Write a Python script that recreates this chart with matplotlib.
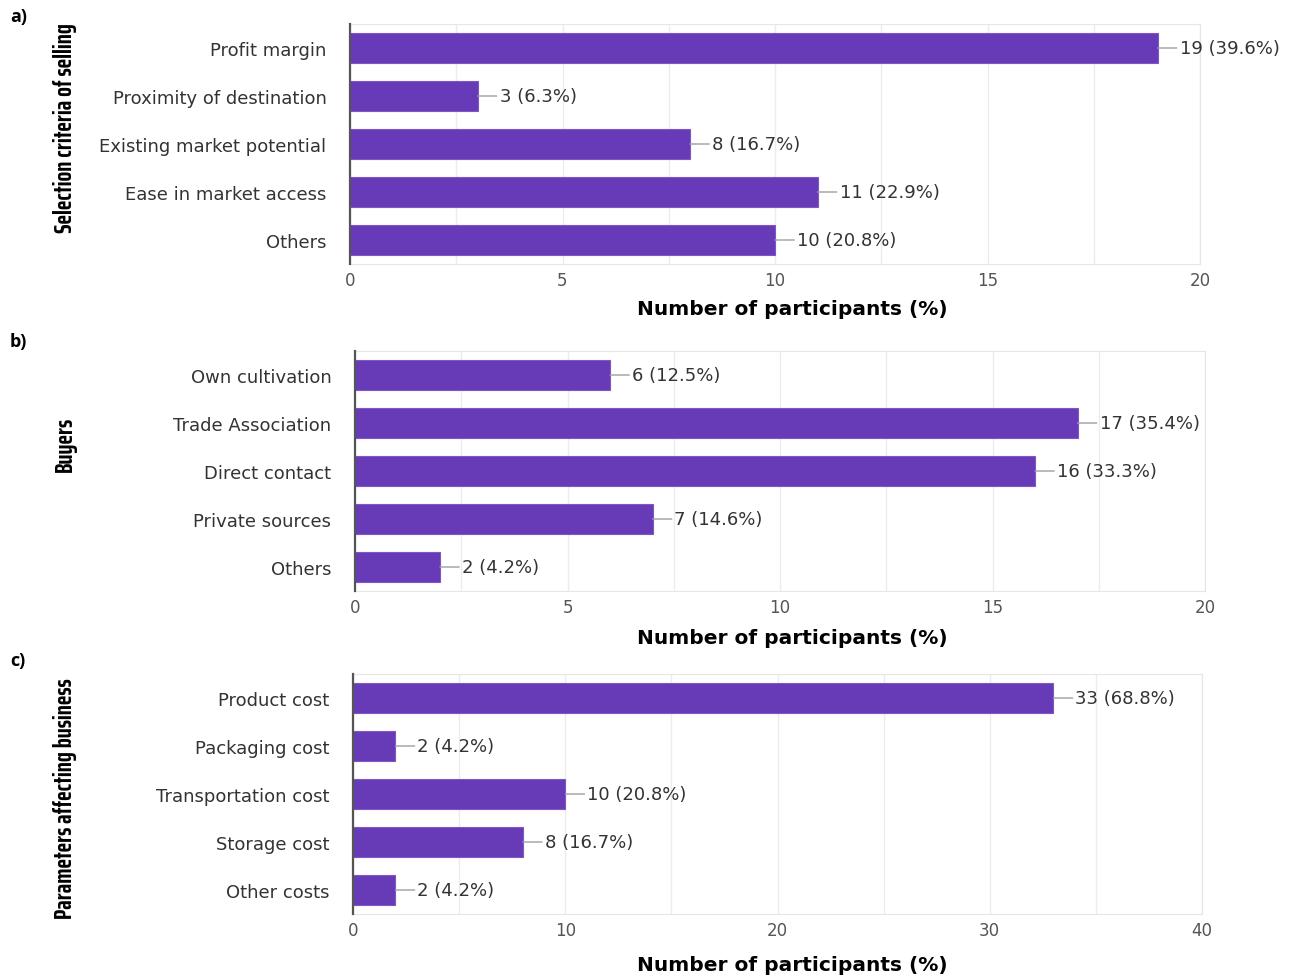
import matplotlib.pyplot as plt
from matplotlib.ticker import MultipleLocator

# panel data
cats_a = ["Profit margin", "Proximity of destination", "Existing market potential",
          "Ease in market access", "Others"]
vals_a = [19, 3, 8, 11, 10]
pct_a = [39.6, 6.3, 16.7, 22.9, 20.8]

cats_b = ["Own cultivation", "Trade Association", "Direct contact",
          "Private sources", "Others"]
vals_b = [6, 17, 16, 7, 2]
pct_b = [12.5, 35.4, 33.3, 14.6, 4.2]

cats_c = ["Product cost", "Packaging cost", "Transportation cost",
          "Storage cost", "Other costs"]
vals_c = [33, 2, 10, 8, 2]
pct_c = [68.8, 4.2, 20.8, 16.7, 4.2]

W, H = 1297, 979
BAR = "#673ab7"
TXT = "#333333"
LBL_FONT = ["DejaVu Sans"]
BOLD_FONT = ["DejaVu Sans"]
TAG_FONT = ["Open Sans", "DejaVu Sans"]
NARROW_FONT = ["Saira ExtraCondensed", "Roboto Condensed", "DejaVu Sans"]

fig = plt.figure(figsize=(W / 100, H / 100), dpi=100)


def px_axes(left, top, right, bottom):
    return fig.add_axes([left / W, 1 - bottom / H, (right - left) / W, (bottom - top) / H])


def panel(box, cats, vals, pcts, xmax, major, minor, ylab, ylab_y, tag, tagpos, xlab_y):
    ax = px_axes(*box)
    ypos = list(range(len(cats)))
    ax.barh(ypos, vals, height=0.62, color=BAR, edgecolor="#7e57c2", linewidth=0.8, zorder=3)
    ax.set_ylim(len(cats) - 0.5, -0.5)
    ax.set_xlim(0, xmax)
    ax.set_yticks(ypos)
    ax.set_yticklabels(cats, fontsize=13, color=TXT, family=LBL_FONT)
    ax.xaxis.set_major_locator(MultipleLocator(major))
    ax.xaxis.set_minor_locator(MultipleLocator(minor))
    ax.tick_params(axis="both", which="both", length=0)
    ax.tick_params(axis="y", pad=17)
    ax.tick_params(axis="x", pad=5, labelsize=12, labelcolor="#555555")
    for t in ax.get_xticklabels():
        t.set_family(LBL_FONT)
    ax.grid(axis="x", which="both", color="#ececec", linewidth=1, zorder=0)
    for s in ("top", "right", "bottom"):
        ax.spines[s].set_color("#e6e6e6")
    ax.spines["left"].set_color("#555555")
    ax.spines["left"].set_linewidth(1.6)
    ax.spines["left"].set_zorder(4)
    for y, v, p in zip(ypos, vals, pcts):
        ax.annotate(f"{v} ({p}%)", xy=(v, y), xytext=(22, 0), textcoords="offset pixels",
                    ha="left", va="center", fontsize=13, color=TXT, family=LBL_FONT,
                    arrowprops=dict(arrowstyle="-", color="#9e9e9e", lw=1,
                                    shrinkA=0, shrinkB=0))
    fig.text(792 / W, 1 - xlab_y / H, "Number of participants (%)",
             ha="center", va="center", fontsize=14.5, fontweight="bold", family=BOLD_FONT)
    fig.text(65 / W, 1 - ylab_y / H, ylab, rotation=90,
             ha="center", va="center", fontsize=18.5, fontweight="bold", family=NARROW_FONT)
    fig.text(tagpos[0] / W, 1 - tagpos[1] / H, tag, ha="left", va="center",
             fontsize=13, fontweight="bold", family=TAG_FONT)
    return ax


panel((350, 25, 1200, 265), cats_a, vals_a, pct_a, 20, 5, 2.5,
      "Selection criteria of selling", 128, "a)", (10, 17), 310)
panel((355, 352, 1205, 592), cats_b, vals_b, pct_b, 20, 5, 2.5,
      "Buyers", 444, "b)", (10, 342), 639)
panel((353, 675, 1202, 915), cats_c, vals_c, pct_c, 40, 10, 5,
      "Parameters affecting business", 799, "c)", (10, 661), 966)

fig.savefig("out.png", dpi=100)
